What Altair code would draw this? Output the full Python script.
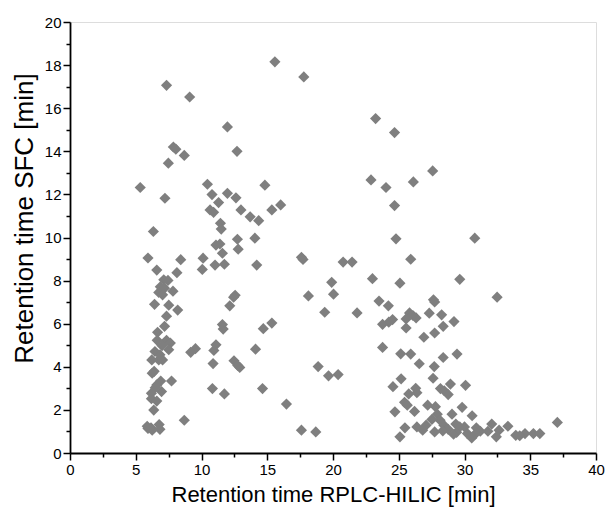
import altair as alt
import pandas as pd

x_rplc_hilic = [
    15.58, 17.78, 7.34, 9.10, 23.24, 24.68, 11.97, 7.86, 8.05, 12.70,
    7.48, 8.69, 27.58, 22.89, 26.11, 5.34, 24.03, 10.45, 14.82, 10.80,
    11.97, 12.62, 7.22, 11.30, 16.02, 24.68, 10.65, 10.92, 13.00, 15.35,
    13.70, 14.35, 11.44, 11.50, 6.34, 14.06, 24.79, 30.78, 11.10, 11.40,
    12.73, 12.79, 11.59, 5.93, 10.12, 17.60, 17.72, 25.91, 8.42, 20.77,
    21.45, 10.06, 6.60, 11.03, 11.74, 14.20, 8.13, 23.00, 29.64, 7.13,
    7.45, 19.90, 25.09, 6.87, 7.19, 7.83, 6.75, 7.04, 20.04, 12.56,
    12.44, 18.13, 32.48, 27.64, 27.73, 23.50, 24.21, 6.43, 7.51, 12.15,
    27.32, 8.19, 21.83, 19.37, 25.82, 26.08, 26.32, 25.56, 7.34, 28.26,
    15.35, 24.53, 24.24, 29.20, 11.59, 11.65, 23.77, 28.38, 7.19, 25.56,
    14.70, 6.66, 27.73, 26.91, 6.63, 7.34, 7.63, 7.00, 11.10, 7.51,
    9.54, 9.18, 10.94, 14.11, 23.77, 25.15, 25.91, 29.43, 6.46, 6.84,
    6.22, 6.75, 7.04, 28.38, 12.47, 12.76, 12.91, 26.56, 18.87, 10.88,
    27.70, 6.25, 6.40, 19.66, 20.39, 27.61, 25.18, 7.72, 6.90, 6.60,
    30.08, 28.93, 24.56, 6.96, 6.48, 10.83, 14.64, 26.29, 26.38, 28.17,
    28.46, 28.76, 25.76, 6.19, 11.74, 6.19, 6.60, 25.44, 25.65, 27.20,
    27.79, 29.82, 16.46, 24.71, 26.20, 6.37, 27.93, 29.05, 30.58, 28.14,
    8.69, 27.52, 37.06, 32.07, 28.43, 29.34, 33.30, 5.87, 6.16, 6.78,
    26.38, 27.08, 25.47, 32.63, 29.64, 28.76, 30.00, 30.90, 31.20, 31.78,
    33.90, 34.60, 35.24, 35.73, 34.20, 32.42, 25.09, 30.55, 29.40, 26.82,
    27.73, 28.35, 29.17, 30.22, 30.85, 5.93, 6.25, 6.84, 17.60, 18.69,
]

y_sfc = [
    18.15, 17.45, 17.06, 16.52, 15.52, 14.87, 15.13, 14.20, 14.10, 14.00,
    13.45, 13.81, 13.09, 12.67, 12.58, 12.32, 12.32, 12.47, 12.43, 11.99,
    12.05, 11.84, 11.82, 11.62, 11.51, 11.48, 11.28, 11.17, 11.28, 11.28,
    10.96, 10.78, 10.66, 10.39, 10.28, 9.97, 9.94, 9.97, 9.65, 9.70,
    9.92, 9.46, 9.27, 9.05, 9.04, 9.08, 8.98, 8.99, 8.97, 8.86,
    8.86, 8.52, 8.49, 8.72, 8.76, 8.72, 8.37, 8.09, 8.06, 8.04,
    8.01, 7.92, 7.88, 7.71, 7.65, 7.51, 7.45, 7.34, 7.37, 7.32,
    7.23, 7.29, 7.23, 7.11, 7.01, 7.05, 6.83, 6.90, 6.86, 6.83,
    6.49, 6.63, 6.50, 6.53, 6.50, 6.38, 6.27, 6.22, 6.35, 6.41,
    6.03, 6.19, 6.07, 6.10, 5.96, 5.75, 5.97, 5.88, 5.88, 5.80,
    5.77, 5.60, 5.57, 5.37, 5.23, 5.23, 5.10, 4.98, 5.02, 4.79,
    4.84, 4.67, 4.76, 4.82, 4.90, 4.60, 4.59, 4.59, 4.71, 4.56,
    4.32, 4.32, 4.32, 4.43, 4.28, 4.06, 3.97, 4.14, 4.01, 4.15,
    4.01, 3.70, 3.79, 3.58, 3.64, 3.47, 3.44, 3.34, 3.34, 3.16,
    3.14, 3.20, 3.08, 2.85, 3.03, 2.99, 2.99, 3.00, 2.80, 2.99,
    2.89, 2.71, 2.74, 2.77, 2.74, 2.52, 2.41, 2.35, 2.22, 2.22,
    2.15, 2.12, 2.27, 1.91, 1.93, 1.99, 1.80, 1.80, 1.73, 1.52,
    1.52, 1.56, 1.42, 1.34, 1.29, 1.34, 1.24, 1.24, 1.17, 1.32,
    1.21, 1.29, 1.17, 1.06, 1.21, 1.10, 1.21, 1.17, 1.01, 1.01,
    0.82, 0.90, 0.90, 0.90, 0.80, 0.75, 0.75, 0.70, 0.96, 1.06,
    0.98, 1.03, 0.87, 0.90, 0.90, 1.14, 1.06, 1.10, 1.06, 0.98,
]

x_major_ticks = [0, 5, 10, 15, 20, 25, 30, 35, 40]
x_minor_ticks = [2.5, 7.5, 12.5, 17.5, 22.5, 27.5, 32.5, 37.5]
y_major_ticks = [0, 2, 4, 6, 8, 10, 12, 14, 16, 18, 20]
y_minor_ticks = [1, 3, 5, 7, 9, 11, 13, 15, 17, 19]

df = pd.DataFrame({"x": x_rplc_hilic, "y": y_sfc})

FONT = "Liberation Sans"

x_scale = alt.Scale(domain=[0, 40], nice=False, zero=False)
y_scale = alt.Scale(domain=[0, 20], nice=False, zero=False)

points = alt.Chart(df).mark_point(
    shape="diamond", filled=True, size=125, color="#7f7f7f", opacity=1
).encode(
    x=alt.X("x:Q", scale=x_scale, axis=alt.Axis(
        orient="bottom", values=x_major_ticks, title="Retention time RPLC-HILIC [min]",
        grid=False, domainColor="black", domainWidth=1.8, tickColor="black",
        tickWidth=1.5, tickSize=7, labelFont=FONT, labelFontSize=15,
        labelColor="black", labelPadding=2, titleFont=FONT, titleFontSize=22,
        titleFontWeight="normal", titleColor="black", titlePadding=7,
        labelFlush=False,
    )),
    y=alt.Y("y:Q", scale=y_scale, axis=alt.Axis(
        orient="left", values=y_major_ticks, title="Retention time SFC [min]",
        grid=False, domainColor="black", domainWidth=1.8, tickColor="black",
        tickWidth=1.5, tickSize=7, labelFont=FONT, labelFontSize=15,
        labelColor="black", labelPadding=2, titleFont=FONT, titleFontSize=26,
        titleFontWeight="normal", titleColor="black", titlePadding=7,
        titleY=196, labelFlush=False,
    )),
)

minor = alt.Chart(df).mark_point(opacity=0).encode(
    x=alt.X("x:Q", scale=x_scale, axis=alt.Axis(
        orient="bottom", values=x_minor_ticks, labels=False, domain=False,
        grid=False, title=None, tickColor="black", tickWidth=1.5, tickSize=4,
    )),
    y=alt.Y("y:Q", scale=y_scale, axis=alt.Axis(
        orient="left", values=y_minor_ticks, labels=False, domain=False,
        grid=False, title=None, tickColor="black", tickWidth=1.5, tickSize=4,
    )),
)

chart = alt.layer(points, minor).resolve_axis(
    x="independent", y="independent"
).properties(
    width=526,
    height=431,
    autosize=alt.AutoSizeParams(type="none"),
    padding={"left": 62, "top": 14, "right": 9, "bottom": 56},
).configure_view(stroke=None).configure(background="white")

chart.save("out.html", embed_options={"renderer": "svg", "actions": False})
